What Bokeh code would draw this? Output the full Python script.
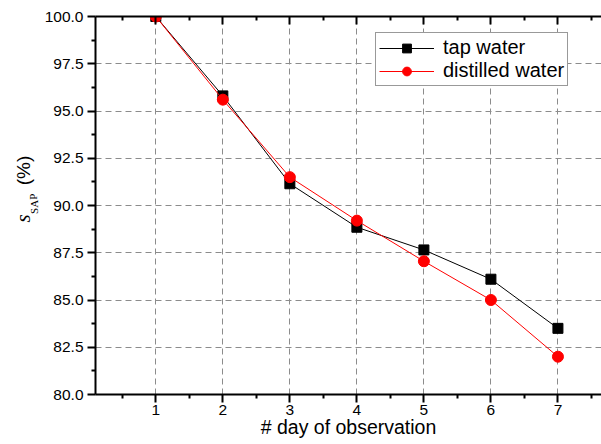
from bokeh.plotting import figure
from bokeh.layouts import row
from bokeh.models import (FixedTicker, LinearAxis, Legend, LegendItem,
                          PrintfTickFormatter, Range1d)
from bokeh.core.properties import value
from bokeh.embed import file_html
from bokeh.resources import INLINE

days = [1, 2, 3, 4, 5, 6, 7]
tap_water = [100.0, 95.8, 91.15, 88.85, 87.65, 86.1, 83.5]
distilled_water = [100.0, 95.6, 91.5, 89.2, 87.05, 85.0, 82.0]
x_ticks = [1, 2, 3, 4, 5, 6, 7]
x_minor = [0.5, 1.5, 2.5, 3.5, 4.5, 5.5, 6.5, 7.5]
y_ticks = [80.0, 82.5, 85.0, 87.5, 90.0, 92.5, 95.0, 97.5, 100.0]
y_minor = [81.25, 83.75, 86.25, 88.75, 91.25, 93.75, 96.25, 98.75]
series_names = ["tap water", "distilled water"]
x_title = "# day of observation"
y_title_parts = ["s", "SAP", "(%)"]

FONT = "Liberation Sans"
H = 442
LW = 40  # width of the side strip that holds the y title

# ---------------- side strip with the y-axis title ----------------
side = figure(width=LW, height=H, output_backend="svg", toolbar_location=None,
              x_range=Range1d(0, LW), y_range=Range1d(0, H),
              min_border=0, x_axis_location=None, y_axis_location=None)
side.outline_line_color = None
side.xgrid.visible = False
side.ygrid.visible = False
side.text(x=[22], y=[H - 236], text=[y_title_parts[0]], angle=1.5708,
          text_font=value("Liberation Serif"), text_font_style="italic",
          text_font_size="21px", text_align="center",
          text_baseline="alphabetic", text_color="black")
side.text(x=[33], y=[H - 219], text=[y_title_parts[1]], angle=1.5708,
          text_font=value("Liberation Serif"), text_font_size="11px",
          text_align="center", text_baseline="alphabetic", text_color="black")
side.text(x=[23], y=[H - 180], text=[y_title_parts[2]], angle=1.5708,
          text_font=value(FONT), text_font_size="19px",
          text_align="center", text_baseline="alphabetic", text_color="black")

# ---------------- main plot ----------------
p = figure(width=601 - LW, height=H, output_backend="svg", toolbar_location=None,
           x_range=Range1d(0.1, 7.65), y_range=Range1d(80, 100),
           min_border_left=95 - LW, min_border_right=0, min_border_top=16,
           min_border_bottom=48, x_axis_location=None, y_axis_location=None)
p.outline_line_color = None

xt = FixedTicker(ticks=x_ticks, minor_ticks=x_minor)
yt = FixedTicker(ticks=y_ticks, minor_ticks=y_minor)

def style_axis(ax):
    ax.axis_line_width = 2
    ax.axis_line_color = "black"
    ax.major_tick_line_width = 2
    ax.minor_tick_line_width = 2
    ax.major_tick_line_color = "black"
    ax.minor_tick_line_color = "black"
    ax.major_label_text_font = FONT
    ax.major_label_text_font_size = "15.5px"
    ax.major_label_text_color = "black"

xaxis = LinearAxis(ticker=xt, axis_label=x_title)
style_axis(xaxis)
xaxis.major_tick_out = 8
xaxis.major_tick_in = 0
xaxis.minor_tick_out = 4
xaxis.minor_tick_in = 0
xaxis.major_label_standoff = 2
xaxis.axis_label_standoff = -2
xaxis.axis_label_text_font = FONT
xaxis.axis_label_text_font_size = "19.5px"
xaxis.axis_label_text_font_style = "normal"
xaxis.axis_label_text_color = "black"
p.add_layout(xaxis, "below")

yaxis = LinearAxis(ticker=yt, formatter=PrintfTickFormatter(format="%.1f"))
style_axis(yaxis)
yaxis.major_tick_out = 8
yaxis.major_tick_in = 0
yaxis.minor_tick_out = 4
yaxis.minor_tick_in = 0
yaxis.major_label_standoff = 4
p.add_layout(yaxis, "left")

top = LinearAxis(ticker=xt)
style_axis(top)
top.major_tick_out = 0
top.major_tick_in = 8
top.minor_tick_out = 0
top.minor_tick_in = 4
top.major_label_overrides = {t: "" for t in x_ticks}
top.major_label_standoff = 0
p.add_layout(top, "above")

p.xgrid.ticker = xt
p.ygrid.ticker = FixedTicker(ticks=y_ticks[1:-1])
for g in (p.xgrid, p.ygrid):
    g.grid_line_color = "#8c8c8c"
    g.grid_line_dash = "6 4"
    g.grid_line_width = 1

l1 = p.line(days, tap_water, line_color="black", line_width=1)
m1 = p.scatter(days, tap_water, marker="square", size=10, fill_color="black",
               line_color="black")
l2 = p.line(days, distilled_water, line_color="#ff0000", line_width=1)
m2 = p.scatter(days, distilled_water, marker="circle", size=11,
               fill_color="#ff0000", line_color="#ff0000")

legend = Legend(items=[LegendItem(label=series_names[0], renderers=[l1, m1]),
                       LegendItem(label=series_names[1], renderers=[l2, m2])],
                location=(280, 308))
legend.label_text_font = FONT
legend.label_text_font_size = "20px"
legend.label_text_color = "black"
legend.padding = 3
legend.spacing = 0
legend.margin = 0
legend.glyph_width = 55
legend.glyph_height = 22
legend.label_height = 22
legend.label_standoff = 9
legend.border_line_color = "#333333"
legend.border_line_width = 1
legend.background_fill_alpha = 1
p.add_layout(legend, "center")

layout = row(side, p, spacing=0)
open("out.html", "w").write(file_html(layout, INLINE))
